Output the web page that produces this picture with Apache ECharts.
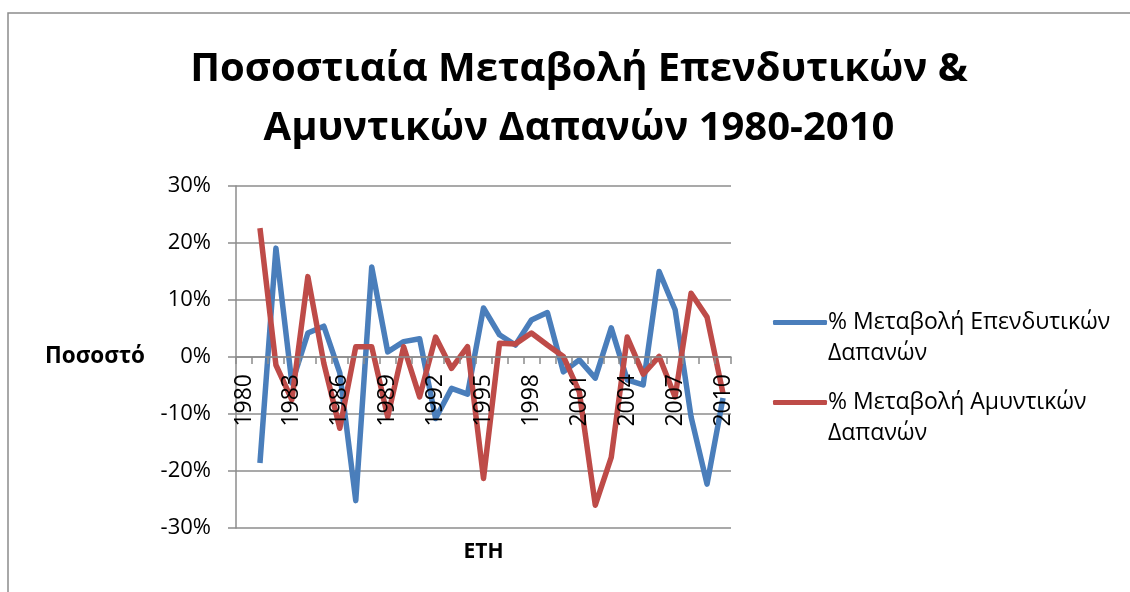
<!DOCTYPE html>
<html>
<head>
<meta charset="utf-8">
<script src="https://cdn.jsdelivr.net/npm/echarts@6/dist/echarts.min.js"></script>
<style>
    html, body { margin: 0; padding: 0; background: #fff; }
    #chart { width: 1130px; height: 592px; }
</style>
</head>
<body>
<div id="chart"></div>
<script>
// years on the category axis
var years = [];
for (var y = 1980; y <= 2010; y++) {
    years.push(String(y));
}

// % change of investment spending (1980 has no value)
var investChange = [null, -18.6, 19.1, -4.6, 4.2, 5.4, -2.8, -25.2, 15.8, 0.9, 2.7, 3.2,
    -10.8, -5.5, -6.5, 8.6, 3.9, 2.1, 6.5, 7.8, -2.6, -0.5, -3.7, 5.1, -4.0, -4.9,
    15.0, 8.3, -10.5, -22.3, -7.2];

// % change of defence spending
var defenceChange = [null, 22.6, -1.4, -7.5, 14.1, -1.1, -12.5, 1.8, 1.8, -10.5, 1.8, -7.0,
    3.5, -2.0, 1.8, -21.3, 2.4, 2.3, 4.2, 2.1, 0.1, -6.1, -26.0, -17.6, 3.5, -3.0,
    0.1, -7.0, 11.2, 7.0, -6.4];

var seriesNames = ['% Μεταβολή Επενδυτικών Δαπανών', '% Μεταβολή Αμυντικών Δαπανών'];

window.onload = function () {
    var chart = echarts.init(document.getElementById('chart'));
    var font = '"Open Sans", "Noto Sans", sans-serif';

    var option = {
        backgroundColor: '#fff',
        animation: false,
        title: {
            text: 'Ποσοστιαία Μεταβολή Επενδυτικών &\nΑμυντικών Δαπανών 1980-2010',
            left: 574,
            top: 35,
            textAlign: 'center',
            textStyle: {
                fontFamily: font,
                fontWeight: 'bold',
                fontSize: 40,
                lineHeight: 59,
                color: '#000'
            }
        },
        // outer frame of the chart
        graphic: [{
            type: 'rect',
            shape: { x: 8, y: 13, width: 1140, height: 600 },
            style: { fill: 'none', stroke: '#8c8c8c', lineWidth: 1.5 },
            silent: true
        }],
        legend: {
            orient: 'vertical',
            left: 768,
            top: 271,
            itemWidth: 54,
            itemHeight: 5,
            itemGap: -13,
            data: seriesNames,
            icon: 'roundRect',
            // empty first line so the first real line sits level with the icon
            formatter: function (name) {
                return '\n' + name.replace(' Δαπανών', '\nΔαπανών');
            },
            textStyle: {
                fontFamily: font,
                fontSize: 23,
                lineHeight: 31,
                color: '#000',
                padding: [0, 0, 0, -4]
            }
        },
        grid: {
            left: 236,
            right: 399,
            top: 186,
            bottom: 64,
            outerBoundsMode: 'none'
        },
        xAxis: {
            type: 'category',
            data: years,
            boundaryGap: true,
            z: 10,
            // put the category axis on the 0% line (grid height 342, half = 171)
            offset: -171,
            name: 'ΕΤΗ',
            nameLocation: 'middle',
            nameGap: 185,
            nameTextStyle: {
                fontFamily: font,
                fontWeight: 'bold',
                fontSize: 21,
                color: '#000'
            },
            axisLine: {
                onZero: false,
                lineStyle: { color: '#8c8c8c', width: 1.5 }
            },
            axisTick: {
                show: true,
                interval: 0,
                length: 7,
                lineStyle: { color: '#8c8c8c', width: 1.5 }
            },
            axisLabel: {
                interval: 2,
                rotate: 90,
                margin: 17,
                fontFamily: font,
                fontSize: 23,
                color: '#000'
            },
            splitLine: { show: false }
        },
        yAxis: {
            type: 'value',
            min: -30,
            max: 30,
            interval: 10,
            name: 'Ποσοστό',
            nameLocation: 'middle',
            nameRotate: 0,
            nameGap: 91,
            nameTextStyle: {
                fontFamily: font,
                fontWeight: 'bold',
                fontSize: 22.5,
                color: '#000',
                align: 'right'
            },
            axisLine: {
                show: true,
                lineStyle: { color: '#8c8c8c', width: 1.5 }
            },
            axisTick: {
                show: true,
                length: 8,
                lineStyle: { color: '#8c8c8c', width: 1.5 }
            },
            axisLabel: {
                margin: 25,
                fontFamily: font,
                fontSize: 22,
                color: '#000',
                formatter: '{value}%'
            },
            splitLine: {
                lineStyle: { color: '#8c8c8c', width: 1.5 }
            }
        },
        color: ['#4a7ebb', '#be4b48'],
        series: [
            {
                name: seriesNames[0],
                type: 'line',
                data: investChange,
                showSymbol: false,
                lineStyle: { width: 5.5, join: 'round' },
                z: 2
            },
            {
                name: seriesNames[1],
                type: 'line',
                data: defenceChange,
                showSymbol: false,
                lineStyle: { width: 5.5, join: 'round' },
                z: 3
            }
        ]
    };

    chart.setOption(option);
};
</script>
</body>
</html>
